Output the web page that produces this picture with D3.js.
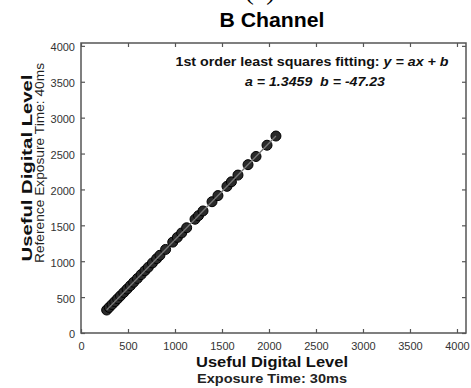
<!DOCTYPE html>
<html lang="en">
<head>
<meta charset="UTF-8">
<title>B Channel</title>
<style>
    body { margin: 0; background: #fff; }
    svg { display: block; font-family: Arial, "Liberation Sans", sans-serif; }
</style>
</head>
<body>
<div id="chart"></div>
<script src="https://d3js.org/d3.v7.min.js"></script>
<script>
// measured points: exposure 30ms (x) vs reference 40ms (y)
const xVals = [273, 300, 330, 360, 390, 420, 455, 490, 525, 560, 600, 640, 680, 716, 760, 805, 840, 900,
               976, 1025, 1071, 1124, 1213, 1250, 1298, 1394, 1457, 1553, 1600, 1670, 1777, 1862, 1979, 2074];
const yVals = [320, 357, 397, 437, 478, 518, 565, 612, 659, 707, 760, 814, 868, 916, 976, 1036, 1083, 1164,
               1266, 1332, 1394, 1466, 1585, 1635, 1700, 1829, 1914, 2043, 2106, 2200, 2345, 2459, 2616, 2744];
const fitA = 1.3459, fitB = -47.23;
const tickVals = [0, 500, 1000, 1500, 2000, 2500, 3000, 3500, 4000];

const W = 471, H = 388;
const plotL = 81, plotR = 466, plotT = 43, plotB = 333;

const svg = d3.select("#chart").append("svg")
    .attr("width", W).attr("height", H);

const x = d3.scaleLinear().domain([0, 4096]).range([plotL, plotR]);
const y = d3.scaleLinear().domain([0, 4040]).range([plotB, plotT]);

// partial "(c)" cut at top, as in the source figure
svg.append("text")
    .attr("x", 260).attr("y", -1)
    .attr("text-anchor", "middle")
    .style("font-family", "'Liberation Serif', 'DejaVu Serif', serif")
    .style("font-size", "28px")
    .text("(c)");

svg.append("text")
    .attr("x", 272).attr("y", 27)
    .attr("text-anchor", "middle")
    .attr("textLength", 105).attr("lengthAdjust", "spacingAndGlyphs")
    .style("font-size", "20px").style("font-weight", "bold")
    .text("B Channel");

// axes: box with inward ticks on every side
const axColor = "#555";
const fmt = d3.format("d");
const gx = svg.append("g").attr("transform", `translate(0,${plotB})`)
    .call(d3.axisBottom(x).tickValues(tickVals).tickFormat(fmt).tickSizeInner(-4).tickSizeOuter(0).tickPadding(9));
const gxt = svg.append("g").attr("transform", `translate(0,${plotT})`)
    .call(d3.axisTop(x).tickValues(tickVals).tickSizeInner(-4).tickSizeOuter(0).tickFormat(""));
const gy = svg.append("g").attr("transform", `translate(${plotL},0)`)
    .call(d3.axisLeft(y).tickValues(tickVals).tickFormat(fmt).tickSizeInner(-4).tickSizeOuter(0).tickPadding(6));
const gyr = svg.append("g").attr("transform", `translate(${plotR},0)`)
    .call(d3.axisRight(y).tickValues(tickVals).tickSizeInner(-4).tickSizeOuter(0).tickFormat(""));

[gx, gxt, gy, gyr].forEach(g => {
    g.select(".domain").remove();
    g.selectAll("line").attr("stroke", axColor).attr("stroke-width", 1.2);
    g.selectAll("text").attr("fill", "#333").style("font-size", "11px")
        .style("font-family", "Arial, 'Liberation Sans', sans-serif");
});
gy.selectAll("text").attr("dy", "0.45em");

svg.append("rect")
    .attr("x", plotL).attr("y", plotT)
    .attr("width", plotR - plotL).attr("height", plotB - plotT)
    .attr("fill", "none").attr("stroke", axColor).attr("stroke-width", 1.5);

// data markers
const pts = xVals.map((v, i) => ({x: v, y: yVals[i]}));
svg.append("g").selectAll("circle")
    .data(pts).enter().append("circle")
    .attr("cx", d => x(d.x)).attr("cy", d => y(d.y))
    .attr("r", 5)
    .attr("fill", "#2a2a2a").attr("stroke", "#000").attr("stroke-width", 1);

// fitted line over the data range
const x0 = d3.min(xVals), x1 = d3.max(xVals);
svg.append("line")
    .attr("x1", x(x0)).attr("y1", y(fitA * x0 + fitB))
    .attr("x2", x(x1)).attr("y2", y(fitA * x1 + fitB))
    .attr("stroke", "#777").attr("stroke-width", 1.3);

// fit annotation
const ann = svg.append("text")
    .attr("x", 312).attr("y", 66)
    .attr("text-anchor", "middle")
    .attr("textLength", 273).attr("lengthAdjust", "spacingAndGlyphs")
    .style("font-size", "13px").style("font-weight", "bold").attr("fill", "#111");
ann.append("tspan").text("1st order least squares fitting: ");
ann.append("tspan").style("font-style", "italic").text("y = ax + b");

svg.append("text")
    .attr("x", 315).attr("y", 86)
    .attr("text-anchor", "middle")
    .attr("textLength", 140).attr("lengthAdjust", "spacingAndGlyphs")
    .style("font-size", "13px").style("font-weight", "bold").style("font-style", "italic")
    .style("white-space", "pre").attr("fill", "#111")
    .text("a = 1.3459  b = -47.23");

// axis titles
svg.append("text")
    .attr("x", 272).attr("y", 367)
    .attr("text-anchor", "middle")
    .attr("textLength", 152).attr("lengthAdjust", "spacingAndGlyphs")
    .style("font-size", "15px").style("font-weight", "bold").attr("fill", "#111")
    .text("Useful Digital Level");
svg.append("text")
    .attr("x", 272).attr("y", 383)
    .attr("text-anchor", "middle")
    .attr("textLength", 150).attr("lengthAdjust", "spacingAndGlyphs")
    .style("font-size", "13px").style("font-weight", "bold").attr("fill", "#222")
    .text("Exposure Time: 30ms");

svg.append("text")
    .attr("transform", "translate(32,168) rotate(-90)")
    .attr("text-anchor", "middle")
    .attr("textLength", 187).attr("lengthAdjust", "spacingAndGlyphs")
    .style("font-size", "14px").style("font-weight", "bold").attr("fill", "#111")
    .text("Useful Digital Level");
svg.append("text")
    .attr("transform", "translate(44,163) rotate(-90)")
    .attr("text-anchor", "middle")
    .attr("textLength", 200).attr("lengthAdjust", "spacingAndGlyphs")
    .style("font-size", "12px").attr("fill", "#222")
    .text("Reference Exposure Time: 40ms");
</script>
</body>
</html>
